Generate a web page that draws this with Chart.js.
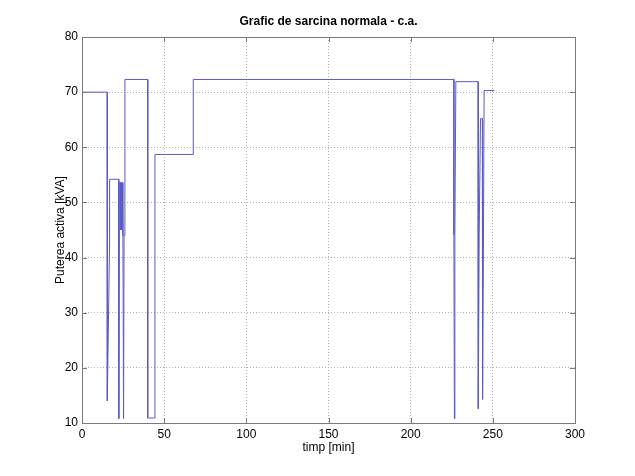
<!DOCTYPE html>
<html>
<head>
<meta charset="utf-8">
<script src="https://cdn.jsdelivr.net/npm/chart.js@4.4.1/dist/chart.umd.min.js"></script>
<style>
    html, body { margin: 0; padding: 0; background: #fff; }
    #wrap { width: 635px; height: 476px; }
</style>
</head>
<body>
<div id="wrap"><canvas id="loadChart"></canvas></div>
<script>
// Grafic de sarcina normala - puterea activa in timp
const timp = [
    0, 0, 0.3, 0.3, 15.3, 15.3, 15.5, 16.8, 16.8,
    22.3, 22.3, 22.5, 22.7, 22.7, 23.5, 23.6, 23.8, 24.2, 24.4, 24.9, 24.9, 25.3, 25.6, 26.1,
    40.0, 40.0, 44.4, 44.4, 67.7, 67.7,
    226.3, 226.3, 226.6, 226.9, 227.5,
    241.0, 241.0, 241.3, 241.7, 242.5, 243.6, 243.6, 243.9, 244.3, 244.7, 251.0
];
const putere = [
    12, 43, 43, 70, 70, 43, 14, 43, 54.2,
    54.2, 44, 10.8, 44, 53.6, 53.6, 45, 53.6, 45, 53.6, 53.6, 44, 10.8, 44, 72.3,
    72.3, 10.9, 10.9, 58.7, 58.7, 72.3,
    72.3, 44.1, 10.8, 44.1, 71.9,
    71.9, 44.3, 12.6, 44.3, 65.2, 65.2, 42.9, 14.3, 43, 70.3, 70.3
];
const xTicks = [0, 50, 100, 150, 200, 250, 300];
const yTicks = [10, 20, 30, 40, 50, 60, 70, 80];

const titlu = 'Grafic de sarcina normala - c.a.';
const font = 'Liberation Sans, Arial, Helvetica, sans-serif';

// chenar, marcaje interioare si titlu, ca in MATLAB
const axesBox = {
    id: 'axesBox',
    afterDraw(chart) {
        const { ctx, chartArea: a, scales: { x, y } } = chart;
        ctx.save();
        ctx.strokeStyle = '#7a7a7a';
        ctx.lineWidth = 1;
        ctx.strokeRect(Math.round(a.left) + 0.5, Math.round(a.top) + 0.5,
            Math.round(a.right - a.left), Math.round(a.bottom - a.top));

        ctx.beginPath();
        xTicks.forEach(v => {
            const px = Math.round(x.getPixelForValue(v)) + 0.5;
            ctx.moveTo(px, a.bottom); ctx.lineTo(px, a.bottom - 5);
            ctx.moveTo(px, a.top); ctx.lineTo(px, a.top + 5);
        });
        yTicks.forEach(v => {
            const py = Math.round(y.getPixelForValue(v)) + 0.5;
            ctx.moveTo(a.left, py); ctx.lineTo(a.left + 5, py);
            ctx.moveTo(a.right, py); ctx.lineTo(a.right - 5, py);
        });
        ctx.stroke();

        ctx.fillStyle = '#000';
        ctx.font = 'bold 12px ' + font;
        ctx.textAlign = 'center';
        ctx.textBaseline = 'middle';
        ctx.fillText(titlu, (a.left + a.right) / 2, 22);
        ctx.restore();
    }
};

new Chart(document.getElementById('loadChart'), {
    type: 'scatter',
    data: {
        datasets: [{
            data: timp.map((t, i) => ({ x: t, y: putere[i] })),
            showLine: true,
            borderColor: '#5a5ac8',
            borderWidth: 1,
            pointRadius: 0,
            tension: 0,
        }],
    },
    options: {
        responsive: true,
        maintainAspectRatio: false,
        animation: false,
        layout: { padding: { left: 0, right: 60, top: 37, bottom: 0 } },
        plugins: { legend: { display: false }, tooltip: { enabled: false } },
        scales: {
            x: {
                type: 'linear',
                min: 0,
                max: 300,
                afterBuildTicks: s => { s.ticks = xTicks.map(v => ({ value: v })); },
                afterFit: s => { s.height = 53; },
                ticks: { color: '#000', font: { family: font, size: 12 }, padding: 4, maxRotation: 0 },
                grid: { color: '#b0b0b0', drawTicks: false },
                border: { display: false, dash: [1, 2] },
                title: {
                    display: true,
                    text: 'timp [min]',
                    color: '#000',
                    font: { family: font, size: 12 },
                    padding: { top: 0, bottom: 21 },
                },
            },
            y: {
                min: 10,
                max: 80,
                afterBuildTicks: s => { s.ticks = yTicks.map(v => ({ value: v })); },
                afterFit: s => { s.width = 82; },
                ticks: { color: '#000', font: { family: font, size: 12 }, padding: 4 },
                grid: { color: '#b0b0b0', drawTicks: false },
                border: { display: false, dash: [1, 2] },
                title: {
                    display: true,
                    text: 'Puterea activa [kVA]',
                    color: '#000',
                    font: { family: font, size: 12 },
                    padding: { top: 53, bottom: 0 },
                },
            },
        },
    },
    plugins: [axesBox],
});
</script>
</body>
</html>
